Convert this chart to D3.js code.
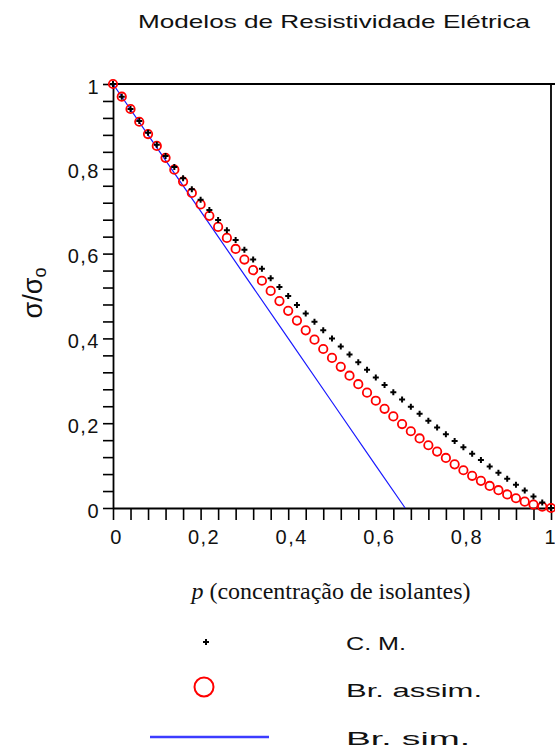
<!DOCTYPE html>
<html><head><meta charset="utf-8">
<script src="https://cdn.jsdelivr.net/npm/d3@7/dist/d3.min.js"></script>
<style>body{margin:0;background:#fff}svg{display:block}</style>
</head><body><svg id="c" width="555" height="751"></svg>
<script>
const pValues = [0,0.02,0.04,0.06,0.08,0.10,0.12,0.14,0.16,0.18,0.20,0.22,0.24,0.26,0.28,0.30,0.32,0.34,0.36,0.38,0.40,0.42,0.44,0.46,0.48,0.50,0.52,0.54,0.56,0.58,0.60,0.62,0.64,0.66,0.68,0.70,0.72,0.74,0.76,0.78,0.80,0.82,0.84,0.86,0.88,0.90,0.92,0.94,0.96,0.98,1.00];
const cmValues = [1,0.970,0.941,0.913,0.885,0.857,0.830,0.804,0.778,0.752,0.727,0.703,0.679,0.655,0.632,0.609,0.586,0.564,0.542,0.521,0.500,0.479,0.459,0.439,0.419,0.400,0.381,0.362,0.344,0.326,0.308,0.290,0.273,0.256,0.239,0.222,0.206,0.190,0.174,0.158,0.143,0.128,0.113,0.098,0.083,0.069,0.055,0.041,0.027,0.013,0];
const brAssimValues = [1,0.970,0.941,0.911,0.882,0.854,0.826,0.798,0.770,0.743,0.716,0.689,0.663,0.637,0.611,0.586,0.561,0.536,0.512,0.488,0.465,0.442,0.419,0.397,0.375,0.354,0.333,0.312,0.292,0.272,0.253,0.234,0.216,0.198,0.181,0.164,0.148,0.133,0.118,0.103,0.089,0.076,0.064,0.052,0.042,0.032,0.023,0.015,0.008,0.003,0];
const brSimP = [0,0.1,0.2,0.3,0.4,0.5,0.6,0.667];
const brSimValues = [1,0.85,0.70,0.55,0.40,0.25,0.10,0];
const seriesNames = ["C. M.","Br. assim.","Br. sim."];
const tickLabelValues = [0,0.2,0.4,0.6,0.8,1];
const tickLabels = ["0","0,2","0,4","0,6","0,8","1"];
const minorTicks = [0,0.04,0.08,0.12,0.16,0.2,0.24,0.28,0.32,0.36,0.4,0.44,0.48,0.52,0.56,0.6,0.64,0.68,0.72,0.76,0.8,0.84,0.88,0.92,0.96,1];
const titleText = "Modelos de Resistividade Elétrica";

const svg = d3.select("#c");
const x = d3.scaleLinear().domain([0,1]).range([113,551]);
const y = d3.scaleLinear().domain([0,1]).range([508,84]);
const sans = "'Liberation Sans', Arial, Helvetica, sans-serif";
const fmt = v => { const i = tickLabelValues.findIndex(t => Math.abs(t - v) < 1e-6); return i >= 0 ? tickLabels[i] : ""; };

// title
svg.append("text").attr("x",138).attr("y",28).attr("font-family",sans).attr("font-size",19)
  .attr("textLength",392).attr("lengthAdjust","spacingAndGlyphs").attr("fill","#111").text(titleText);

// frame lines (top, right)
svg.append("line").attr("x1",x(0)).attr("x2",555).attr("y1",y(1)).attr("y2",y(1)).attr("stroke","#000").attr("stroke-width",1.8);
svg.append("line").attr("x1",x(1)).attr("x2",x(1)).attr("y1",y(1)).attr("y2",y(0)).attr("stroke","#000").attr("stroke-width",1.8);

// axes
const xAxis = svg.append("g").attr("transform",`translate(0,${y(0)})`)
  .call(d3.axisBottom(x).tickValues(minorTicks).tickFormat(fmt).tickSize(12).tickSizeOuter(0).tickPadding(10));
const yAxis = svg.append("g").attr("transform",`translate(${x(0)},0)`)
  .call(d3.axisLeft(y).tickValues(minorTicks).tickFormat(fmt).tickSize(10).tickSizeOuter(0).tickPadding(3));
[xAxis,yAxis].forEach(g => {
  g.select(".domain").attr("stroke","#000").attr("stroke-width",1.8);
  g.selectAll(".tick line").attr("stroke","#000").attr("stroke-width",1.6);
  g.selectAll("text").attr("font-family",sans).attr("font-size",20).attr("fill","#111").attr("letter-spacing","1.5px");
});
svg.append("line").attr("x1",x(1)).attr("x2",555).attr("y1",y(0)).attr("y2",y(0)).attr("stroke","#000").attr("stroke-width",1.8);
xAxis.selectAll("text").attr("dx","3px");
xAxis.selectAll(".tick").filter(d => d === 1).select("text")
  .attr("text-anchor","end").attr("dx", 0).attr("x", 555 - x(1)).attr("letter-spacing","0px");
yAxis.selectAll("text").attr("dy","0.45em");

// data: blue line (Br. sim.)
const blueData = brSimP.map((p,i) => [p, brSimValues[i]]);
svg.append("path").datum(blueData).attr("fill","none").attr("stroke","#1a1aff").attr("stroke-width",1.2)
  .attr("d", d3.line().x(d => x(d[0])).y(d => y(d[1])));

// red circles (Br. assim.)
svg.append("g").selectAll("circle").data(pValues.map((p,i)=>[p,brAssimValues[i]])).join("circle")
  .attr("cx",d=>x(d[0])).attr("cy",d=>y(d[1])).attr("r",4.2).attr("fill","none").attr("stroke","#ff0000").attr("stroke-width",1.8);

// black crosses (C. M.)
const plus = "M-3,0H3M0,-3V3";
svg.append("g").selectAll("path").data(pValues.map((p,i)=>[p,cmValues[i]])).join("path")
  .attr("transform",d=>`translate(${x(d[0])},${y(d[1])})`).attr("d",plus).attr("stroke","#000").attr("stroke-width",2);

// axis titles
svg.append("text").attr("x",331).attr("y",599).attr("text-anchor","middle")
  .attr("font-family","'Liberation Serif','Times New Roman',serif").attr("font-size",24).attr("fill","#111")
  .call(t => { t.append("tspan").attr("font-style","italic").text("p"); t.append("tspan").text(" (concentração de isolantes)"); });
const yl = svg.append("text").attr("transform","translate(42,293) rotate(-90)").attr("text-anchor","middle")
  .attr("font-family",sans).attr("font-size",27).attr("fill","#111");
yl.append("tspan").text("σ/σ");
yl.append("tspan").attr("font-size",18).attr("dy",4).text("o");

// legend
svg.append("path").attr("transform","translate(206,642)").attr("d",plus).attr("stroke","#000").attr("stroke-width",2);
svg.append("circle").attr("cx",204).attr("cy",687).attr("r",9.5).attr("fill","none").attr("stroke","#ff0000").attr("stroke-width",2);
svg.append("line").attr("x1",150).attr("x2",269).attr("y1",737).attr("y2",737).attr("stroke","#3c3cff").attr("stroke-width",2.5);
const legY = [650,697,745], legW = [60,136,124];
seriesNames.forEach((n,i) => svg.append("text").attr("x",346).attr("y",legY[i]).attr("font-family",sans).attr("font-size",19)
  .attr("textLength",legW[i]).attr("lengthAdjust","spacingAndGlyphs").attr("fill","#111").text(n));
</script></body></html>
